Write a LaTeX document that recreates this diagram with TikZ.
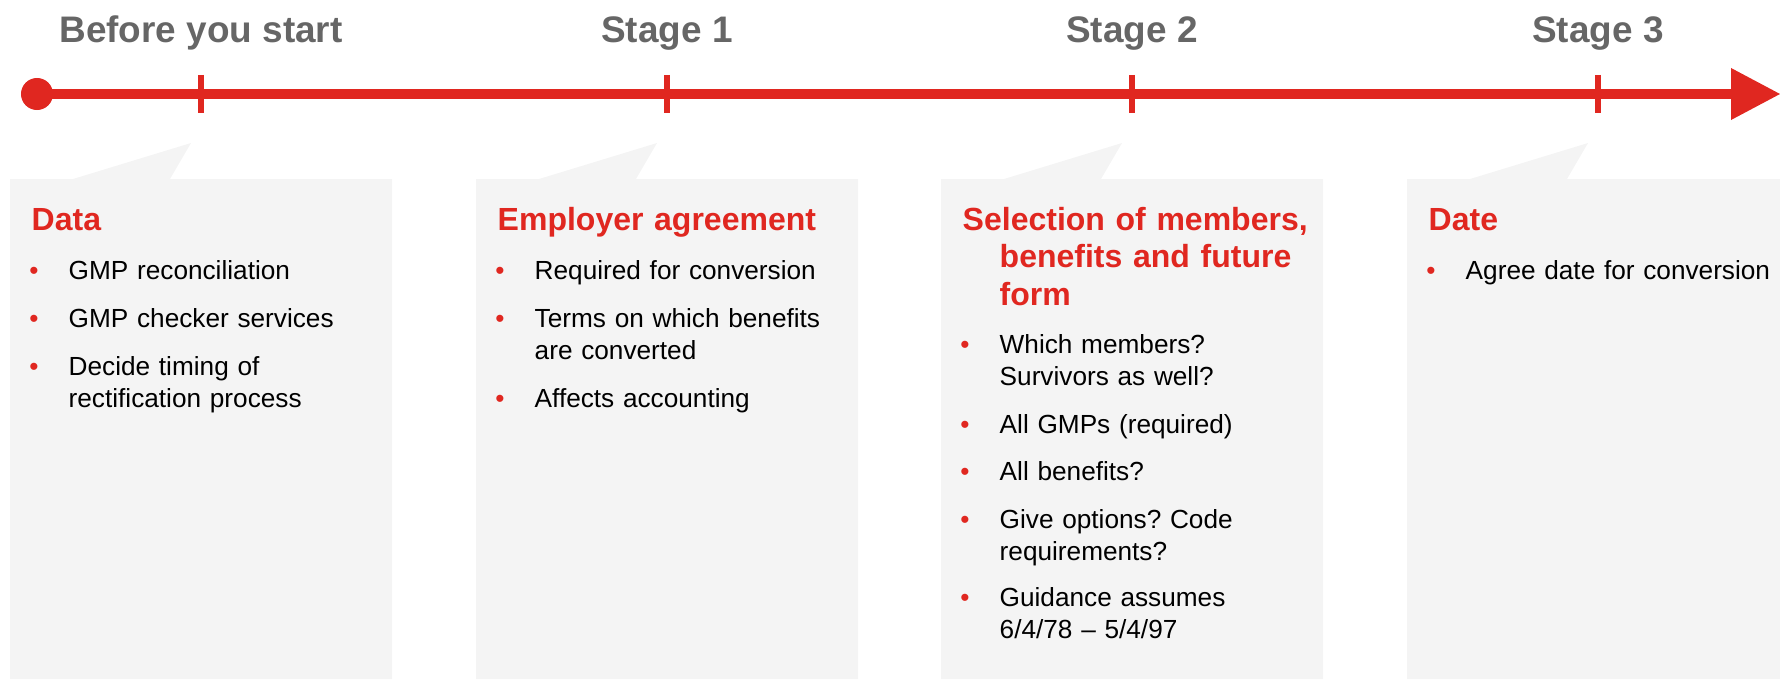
\documentclass[tikz,border=0pt]{standalone}
\usepackage{fontspec}
\setmainfont{Liberation Sans}
\usepackage{xcolor}
\usepackage{tikz}
\usetikzlibrary{arrows.meta}
\definecolor{LineRed}{HTML}{E02720}
\definecolor{TitleGrey}{HTML}{666666}
\definecolor{BoxGrey}{HTML}{F4F4F4}
\frenchspacing

\begin{document}
\begin{tikzpicture}[x=0.01cm, y=-0.01cm,
  stagetitle/.style={anchor=base, inner sep=0pt, text=TitleGrey, font=\fontsize{10.5}{12.6}\selectfont\bfseries},
  boxhead/.style={anchor=base west, inner sep=0pt, text=LineRed, text width=3.6cm, align=left, font=\fontsize{9.1}{10.8}\selectfont\bfseries},
  boxitem/.style={anchor=base west, inner sep=0pt, text width=3.6cm, align=left, font=\fontsize{7.45}{9.1}\selectfont},
  bulletdot/.style={anchor=base, inner sep=0pt, text=LineRed, font=\fontsize{7.45}{9.1}\selectfont},
  tickmark/.style={draw=LineRed, line width=0.06cm},
  callout/.style={fill=BoxGrey}]%
\useasboundingbox (0,0) rectangle (1780,679);%
% callout boxes
\fill[callout] (10,179) -- (73,179) -- (191,143) -- (170,179) -- (392,179) -- (392,679) -- (10,679) -- cycle;%
\fill[callout] (476,179) -- (539,179) -- (657,143) -- (636,179) -- (858,179) -- (858,679) -- (476,679) -- cycle;%
\fill[callout] (941,179) -- (1004,179) -- (1122,143) -- (1101,179) -- (1323,179) -- (1323,679) -- (941,679) -- cycle;%
\fill[callout] (1407,179) -- (1470,179) -- (1588,143) -- (1567,179) -- (1780,179) -- (1780,679) -- (1407,679) -- cycle;%
% time line
\node[circle, fill=LineRed, inner sep=0pt, minimum size=0.32cm] (origin) at (37,94) {};%
\coordinate (arrowend) at (1780,94);%
\draw[LineRed, line width=0.1cm, -{Triangle[length=0.49cm, width=0.52cm, line width=0pt]}] (origin.center) -- (arrowend);%
\coordinate (tick0) at (201,94);%
\coordinate (tick1) at (667,94);%
\coordinate (tick2) at (1132,94);%
\coordinate (tick3) at (1598,94);%
\draw[tickmark] ([yshift=0.19cm]tick0) -- ([yshift=-0.19cm]tick0);%
\draw[tickmark] ([yshift=0.19cm]tick1) -- ([yshift=-0.19cm]tick1);%
\draw[tickmark] ([yshift=0.19cm]tick2) -- ([yshift=-0.19cm]tick2);%
\draw[tickmark] ([yshift=0.19cm]tick3) -- ([yshift=-0.19cm]tick3);%
% stage titles
\node[stagetitle] (title0) at (201,43) {Before you start};%
\node[stagetitle] (title1) at (667,43) {Stage 1};%
\node[stagetitle] (title2) at (1132,43) {Stage 2};%
\node[stagetitle] (title3) at (1598,43) {Stage 3};%
% before you start
\node[boxhead] (head0) at (31,230) {Data};%
\node[bulletdot] (dot0a) at (34,279) {•};%
\node[boxitem] (item0a) at (68,279) {GMP reconciliation};%
\node[bulletdot] (dot0b) at (34,327) {•};%
\node[boxitem] (item0b) at (68,327) {GMP checker services};%
\node[bulletdot] (dot0c) at (34,375) {•};%
\node[boxitem] (item0c) at (68,375) {Decide timing of\\rectification process};%
% stage 1
\node[boxhead] (head1) at (497,230) {Employer agreement};%
\node[bulletdot] (dot1a) at (500,279) {•};%
\node[boxitem] (item1a) at (534,279) {Required for conversion};%
\node[bulletdot] (dot1b) at (500,327) {•};%
\node[boxitem] (item1b) at (534,327) {Terms on which benefits\\are converted};%
\node[bulletdot] (dot1c) at (500,407) {•};%
\node[boxitem] (item1c) at (534,407) {Affects accounting};%
% stage 2
\node[boxhead] (head2) at (962,230) {Selection of members,\\\hspace*{0.37cm}benefits and future\\\hspace*{0.37cm}form};%
\node[bulletdot] (dot2a) at (965,353) {•};%
\node[boxitem] (item2a) at (999,353) {Which members?\\Survivors as well?};%
\node[bulletdot] (dot2b) at (965,433) {•};%
\node[boxitem] (item2b) at (999,433) {All GMPs (required)};%
\node[bulletdot] (dot2c) at (965,480) {•};%
\node[boxitem] (item2c) at (999,480) {All benefits?};%
\node[bulletdot] (dot2d) at (965,528) {•};%
\node[boxitem] (item2d) at (999,528) {Give options? Code\\requirements?};%
\node[bulletdot] (dot2e) at (965,606) {•};%
\node[boxitem] (item2e) at (999,606) {Guidance assumes\\6/4/78 – 5/4/97};%
% stage 3
\node[boxhead] (head3) at (1428,230) {Date};%
\node[bulletdot] (dot3a) at (1431,279) {•};%
\node[boxitem] (item3a) at (1465,279) {Agree date for conversion};%
\end{tikzpicture}
\end{document}
